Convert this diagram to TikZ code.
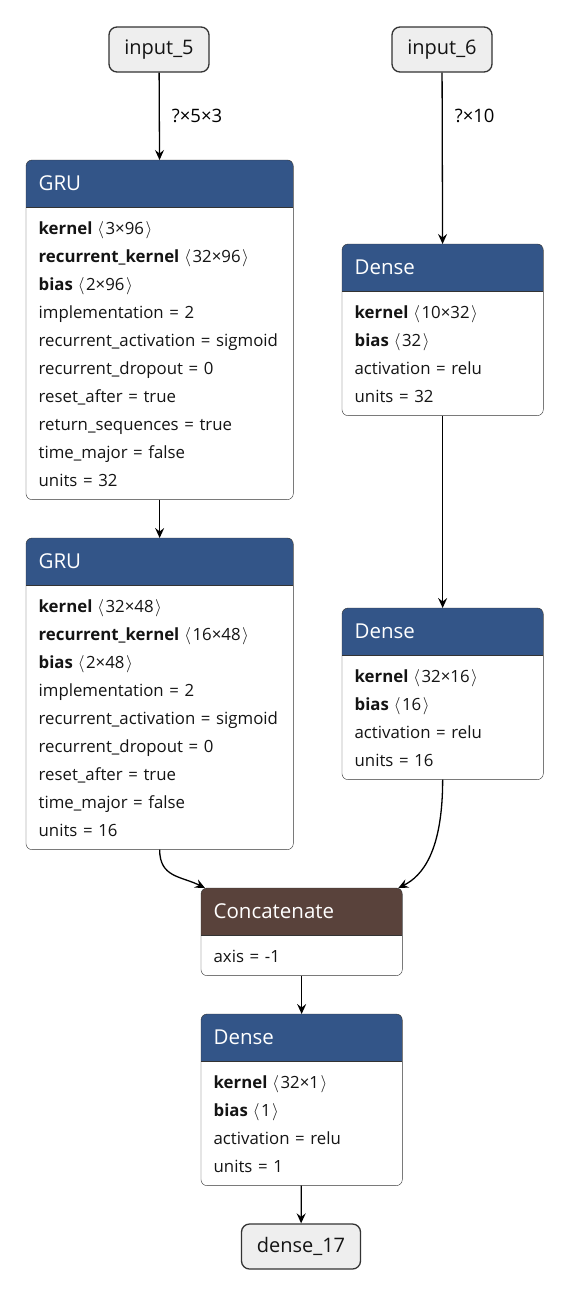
\documentclass[tikz,border=0pt]{standalone}
\usepackage{fontspec}
\setmainfont{Open Sans}
\usetikzlibrary{arrows.meta,positioning,backgrounds}
\definecolor{ink}{RGB}{20,20,20}
\definecolor{frame}{RGB}{51,51,51}
\definecolor{layer}{RGB}{51,85,136}
\definecolor{tensor}{RGB}{89,66,59}
\definecolor{iofill}{RGB}{238,238,238}
\newcommand{\rowstrut}{\rule[-6.5pt]{0pt}{28pt}}
\newcommand{\dimtag}[1]{\hspace{5pt}$\langle$\hspace{1.5pt}#1\hspace{1.5pt}$\rangle$}
% header + body drawn as one rounded card behind the text
\newcommand{\card}[2]{%
  \begin{scope}[on background layer]
    \begin{scope}
      \clip[rounded corners=6pt] (#1h.north west) rectangle (#1.south east);
      \fill[white] (#1h.north west) rectangle (#1.south east);
      \fill[#2] (#1h.north west) rectangle (#1h.south east);
    \end{scope}
    \draw[frame, rounded corners=6pt] (#1h.north west) rectangle (#1.south east);
    \draw[frame] (#1h.south west) -- (#1h.south east);
  \end{scope}}
\tikzset{
  every picture/.style={color=ink, line width=1.3pt},
  io/.style={draw=frame, fill=iofill, rounded corners=8pt, minimum height=45pt, minimum width=100pt, inner xsep=10pt, font=\fontsize{20}{24}\selectfont},
  head/.style={anchor=north west, minimum height=46pt, inner xsep=12pt, inner ysep=0pt, align=left, text=white, font=\fontsize{20.5}{24}\selectfont},
  attrs/.style={anchor=north west, inner xsep=12pt, inner ysep=5.5pt, align=left, font=\fontsize{16.8}{28}\selectfont},
  flow/.style={-{Stealth[length=10pt,width=9pt,inset=3.5pt]}, line width=1.3pt, color=black},
  dimlbl/.style={font=\fontsize{18.5}{22}\selectfont, inner sep=0pt},
}

\begin{document}
\begin{tikzpicture}[x=1pt, y=1pt]
  \begin{scope}[on background layer]
    \fill[white] (0,0) rectangle (570,-1296);
  \end{scope}
  \useasboundingbox (0,0) rectangle (570,-1296);

  % inputs
  \node[io] (in5) at (159,-49.5) {input\_5};
  \node[io] (in6) at (442,-49.5) {input\_6};

  % left branch
  \node[head, text width=242pt] (g1h) at (26,-160) {GRU};
  \node[attrs, text width=242pt] (g1) at (g1h.south west) {\rowstrut\textbf{kernel}\dimtag{3×96}\\
    \textbf{recurrent\_kernel}\dimtag{32×96}\\
    \textbf{bias}\dimtag{2×96}\\
    implementation = 2\\
    \mbox{recurrent\_activation = sigmoid}\\
    recurrent\_dropout = 0\\
    reset\_after = true\\
    return\_sequences = true\\
    time\_major = false\\
    units = 32\rowstrut};
  \node[head, text width=242pt] (g2h) at (26,-538) {GRU};
  \node[attrs, text width=242pt] (g2) at (g2h.south west) {\rowstrut\textbf{kernel}\dimtag{32×48}\\
    \textbf{recurrent\_kernel}\dimtag{16×48}\\
    \textbf{bias}\dimtag{2×48}\\
    implementation = 2\\
    \mbox{recurrent\_activation = sigmoid}\\
    recurrent\_dropout = 0\\
    reset\_after = true\\
    time\_major = false\\
    units = 16\rowstrut};

  % right branch
  \node[head, text width=176pt] (d1h) at (342,-244) {Dense};
  \node[attrs, text width=176pt] (d1) at (d1h.south west) {\rowstrut\textbf{kernel}\dimtag{10×32}\\
    \textbf{bias}\dimtag{32}\\
    activation = relu\\
    units = 32\rowstrut};
  \node[head, text width=176pt] (d2h) at (342,-608) {Dense};
  \node[attrs, text width=176pt] (d2) at (d2h.south west) {\rowstrut\textbf{kernel}\dimtag{32×16}\\
    \textbf{bias}\dimtag{16}\\
    activation = relu\\
    units = 16\rowstrut};

  % merge and output
  \node[head, text width=176pt] (cath) at (201,-888) {Concatenate};
  \node[attrs, text width=176pt] (cat) at (cath.south west) {\rowstrut axis = -1\rowstrut};
  \node[head, text width=176pt] (d3h) at (201,-1014) {Dense};
  \node[attrs, text width=176pt] (d3) at (d3h.south west) {\rowstrut\textbf{kernel}\dimtag{32×1}\\
    \textbf{bias}\dimtag{1}\\
    activation = relu\\
    units = 1\rowstrut};
  \node[io, minimum width=119pt] (out) at (301,-1246.5) {dense\_17};

  \card{g1}{layer}
  \card{g2}{layer}
  \card{d1}{layer}
  \card{d2}{layer}
  \card{cat}{tensor}
  \card{d3}{layer}

  % edges
  \draw[flow] (in5) -- node[dimlbl, midway, right=12pt] {?×5×3} (g1h);
  \draw[flow] (in6) -- node[dimlbl, pos=0.25, right=12pt] {?×10} (d1h);
  \draw[flow] (g1) -- (g2h);
  \draw[flow] (d1) -- (d2h);
  \draw[flow] (g2.south) .. controls +(0,-28) and +(-24,12) .. ([xshift=4pt]cath.north west);
  \draw[flow] (d2.south) .. controls +(0,-72) and +(24,12) .. ([xshift=-4pt]cath.north east);
  \draw[flow] (cat) -- (d3h);
  \draw[flow] (d3) -- (out);
\end{tikzpicture}
\end{document}
